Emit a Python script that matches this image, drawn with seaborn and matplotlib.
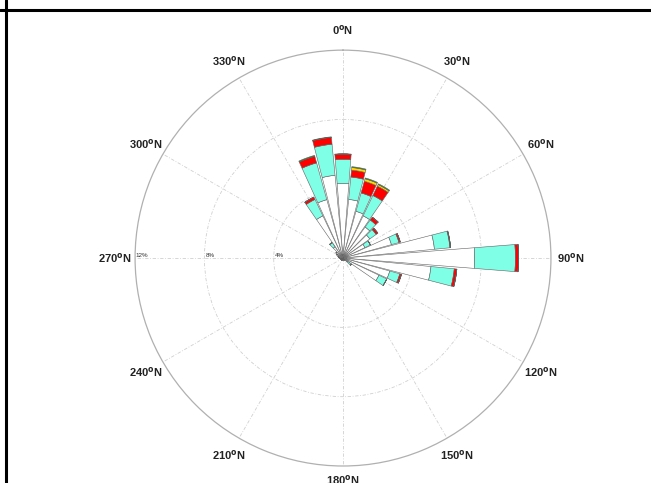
import numpy as np
import matplotlib
matplotlib.use("Agg")
import matplotlib.pyplot as plt
from matplotlib.lines import Line2D
import seaborn as sns

sns.set_theme(style="white")
plt.rcParams['font.family'] = ['Liberation Sans', 'DejaVu Sans']

# Wind directions (degrees from North) and frequency (%) per speed class
directions = list(range(0, 360, 10))
#            0    10   20   30   40   50   60   70   80   90   100  110  120  130  140  150  160  170
white  = [4.3, 3.4, 2.8, 2.7, 2.2, 1.9, 1.4, 2.9, 5.3, 7.6, 5.1, 2.8, 2.3, 0.3, 0.15, 0.1, 0.1, 0.1,
          0.15, 0.1, 0.1, 0.15, 0.1, 0.1, 0.15, 0.1, 0.15, 0.2, 0.25, 0.3, 0.4, 0.5, 0.8, 2.7, 3.5, 4.8]
#          180  190  200  210  220  230  240  250  260  270  280  290  300  310  320  330  340  350
cyan   = [1.4, 1.3, 1.1, 1.3, 0.5, 0.45, 0.35, 0.45, 0.9, 2.35, 1.35, 0.6, 0.5, 0.3, 0, 0, 0, 0,
          0, 0, 0, 0, 0, 0, 0, 0, 0, 0, 0, 0, 0, 0, 0.3, 1.05, 2.2, 1.8]
red    = [0.3, 0.4, 0.7, 0.6, 0.2, 0.12, 0, 0.08, 0.04, 0.18, 0.15, 0.1, 0, 0, 0, 0, 0, 0,
          0, 0, 0, 0, 0, 0, 0, 0, 0, 0, 0, 0, 0, 0, 0, 0.15, 0.4, 0.4]
yellow = [0, 0.15, 0.15, 0.1, 0, 0, 0, 0, 0, 0, 0, 0, 0, 0, 0, 0, 0, 0,
          0, 0, 0, 0, 0, 0, 0, 0, 0, 0, 0, 0, 0, 0, 0, 0, 0, 0]
green  = [0.02, 0.05, 0.05, 0.05, 0, 0, 0, 0, 0, 0, 0, 0, 0, 0, 0, 0, 0, 0,
          0, 0, 0, 0, 0, 0, 0, 0, 0, 0, 0, 0, 0, 0, 0, 0, 0.05, 0.03]

ring_values = [4, 8, 12]
ring_labels = ["4%", "8%", "12%"]
dir_ticks = list(range(0, 360, 30))
dir_labels = [f"{d}$^{{\\mathbf{{o}}}}$N" for d in dir_ticks]

series = [white, cyan, red, yellow, green]
colors = ["#ffffff", "#7fffe6", "#ff0000", "#ffd800", "#20a020"]

fig = plt.figure(figsize=(6.51, 4.83), dpi=100)
ax = fig.add_axes([0.2074, 0.0352, 0.639, 0.861], projection="polar")
ax.set_theta_zero_location("N")
ax.set_theta_direction(-1)

theta = np.deg2rad(directions)
width = np.deg2rad(9)
bottom = np.zeros(len(directions))
for vals, col in zip(series, colors):
    vals = np.array(vals, dtype=float)
    ax.bar(theta, vals, width=width, bottom=bottom, color=col,
           edgecolor="#606060", linewidth=0.4, zorder=3)
    bottom += vals

ax.set_ylim(0, 12)
ax.set_yticks([4, 8])
ax.set_yticklabels([])
ax.set_xticks(np.deg2rad(dir_ticks))
ax.set_xticklabels([])
ax.grid(True, color="#d0d0d0", linestyle=(0, (4, 2, 1, 2)), linewidth=0.6)
ax.spines["polar"].set_color("#b0b0b0")
ax.spines["polar"].set_linewidth(0.9)
ax.set_facecolor("white")

for v, lab in zip(ring_values, ring_labels):
    ax.text(np.deg2rad(270), v - 0.05, lab, fontsize=4.5, color="#333333",
            ha="left", va="bottom", zorder=4, rotation=0)

for d, lab in zip(dir_ticks, dir_labels):
    r = 12.8 if d == 180 else 13.15
    ax.text(np.deg2rad(d), r, lab, fontsize=8, fontweight="bold",
            ha="center", va="center", clip_on=False, color="#222222")

fig.add_artist(Line2D([0, 1], [1 - 10 / 483, 1 - 10 / 483], color="black", linewidth=2.2))
fig.add_artist(Line2D([6 / 651, 6 / 651], [0, 1], color="black", linewidth=2.2))

fig.savefig("out.png", dpi=100)
